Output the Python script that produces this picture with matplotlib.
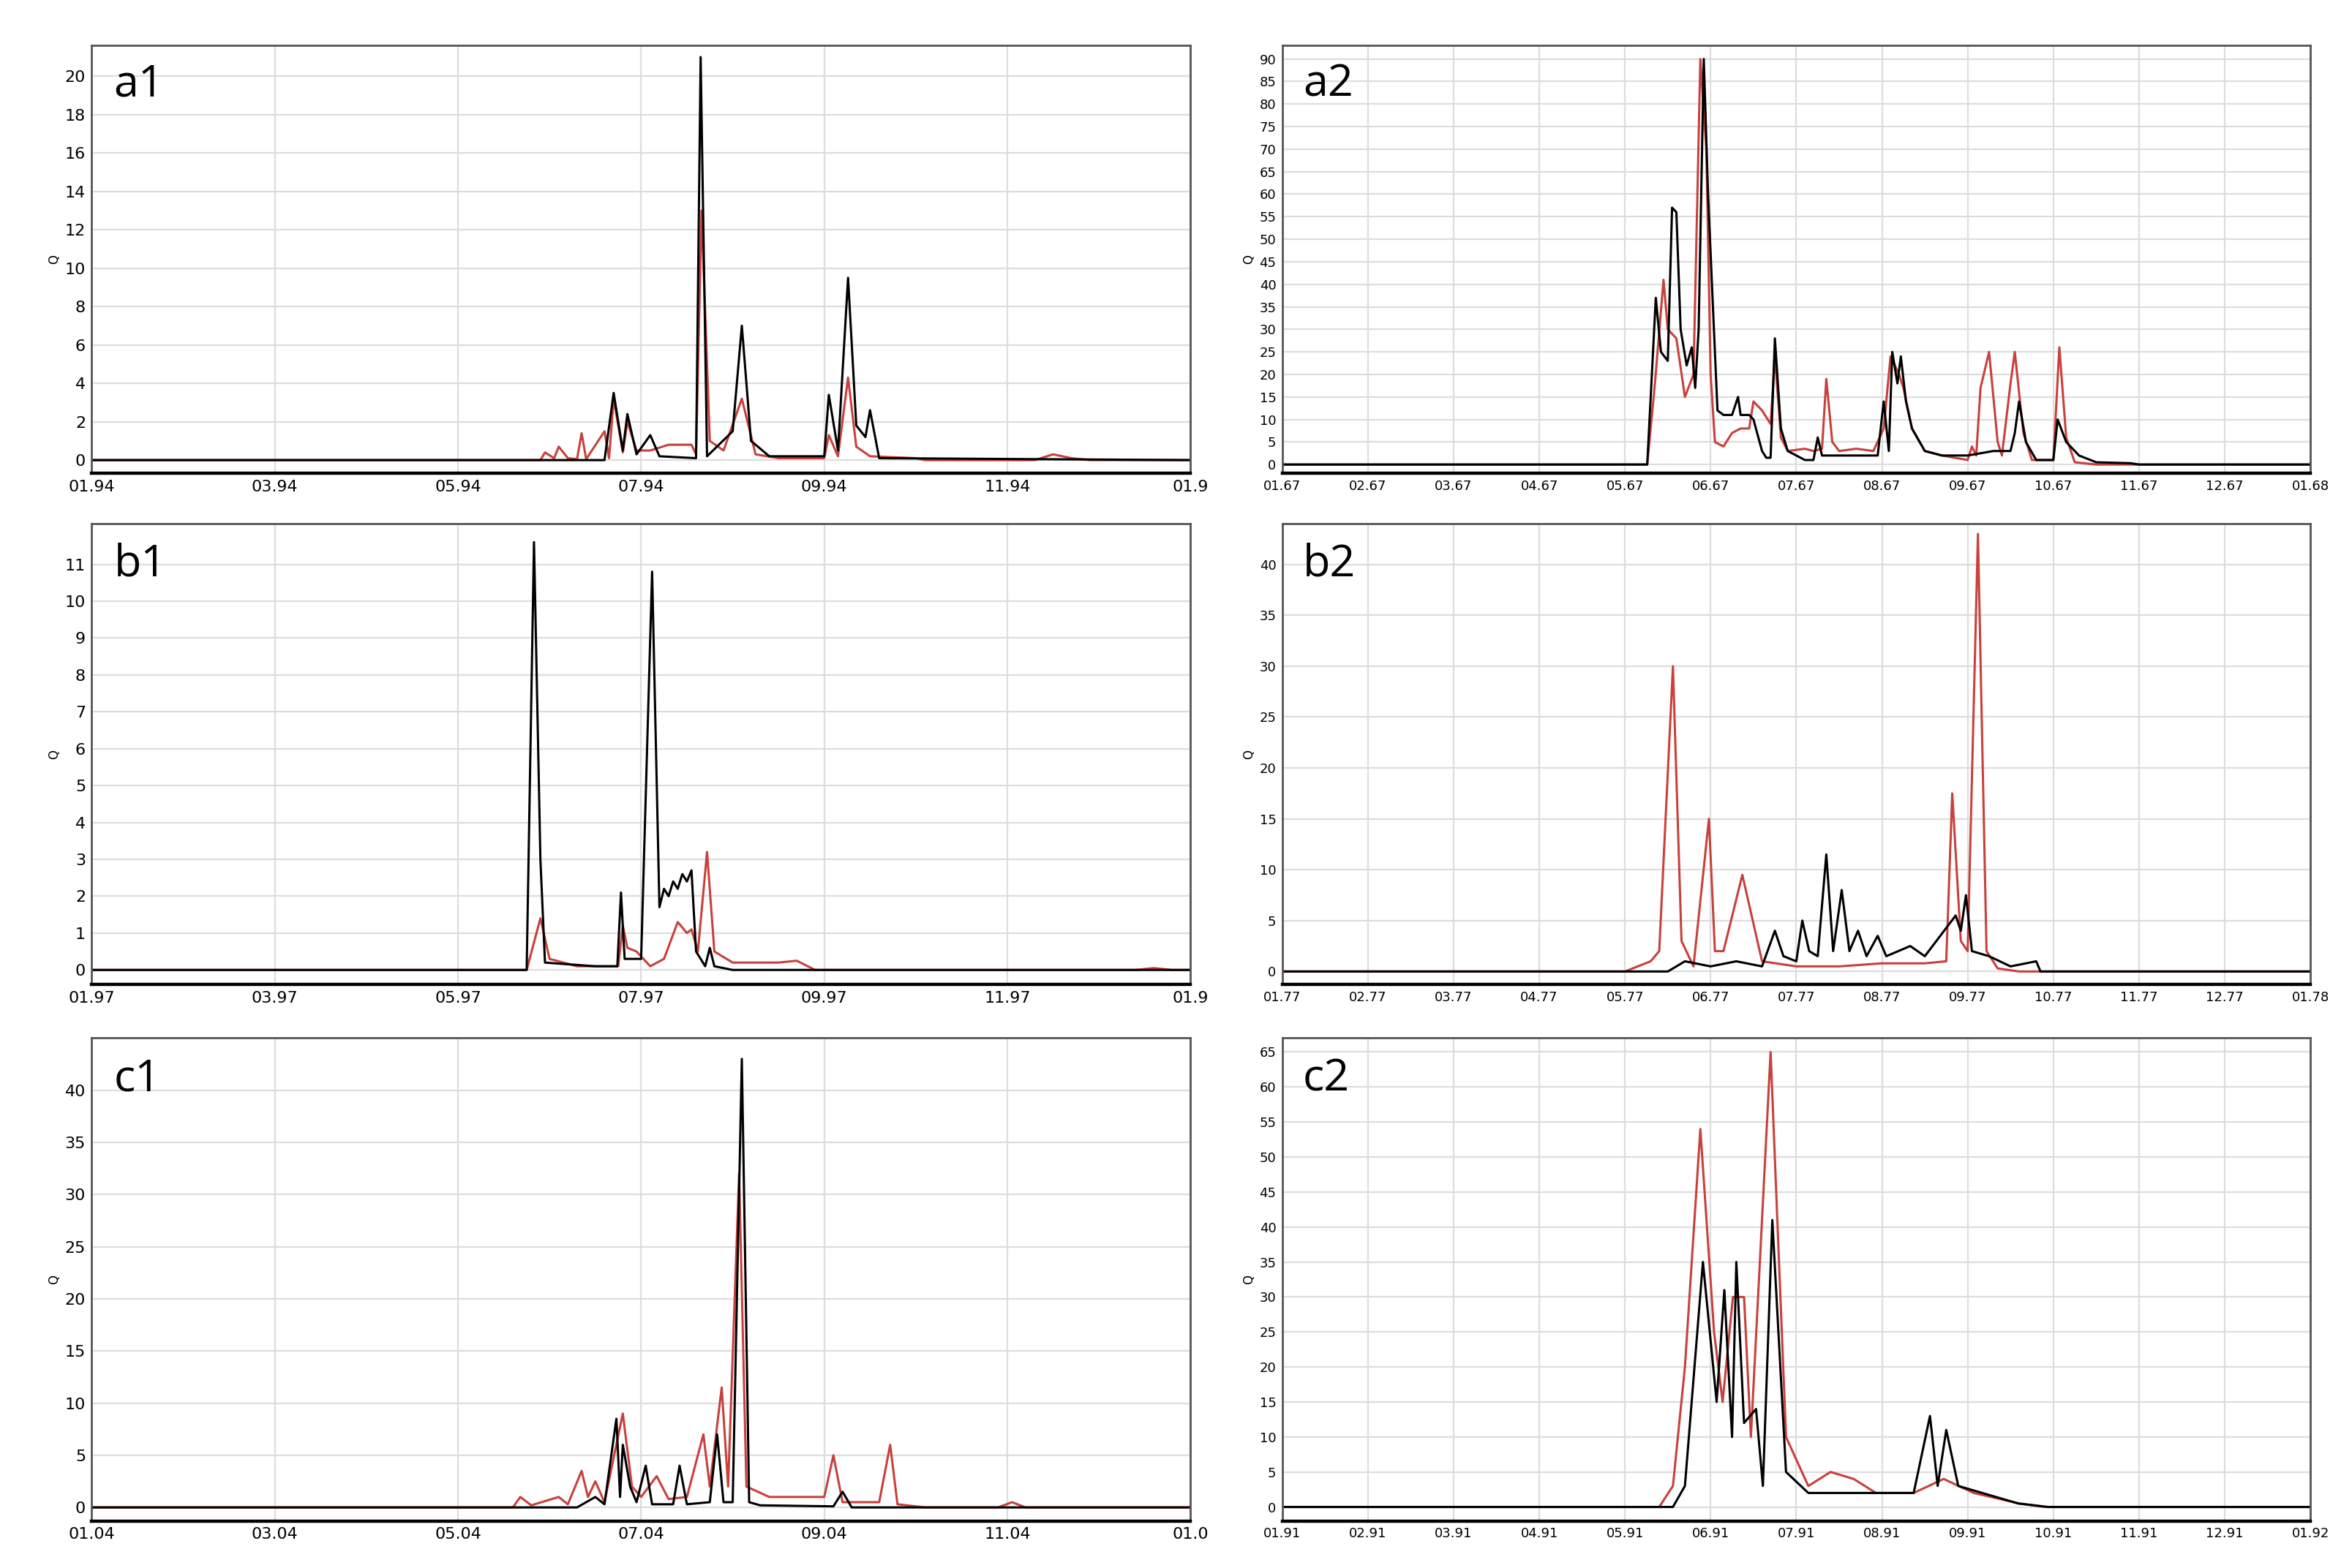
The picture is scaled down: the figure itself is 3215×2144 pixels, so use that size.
import matplotlib.pyplot as plt

# panel data: x positions (tick units), black and red traces
a1_bx = [1, 6.6, 6.7, 6.8, 6.85, 6.95, 7.1, 7.2, 7.6, 7.65, 7.72, 8.0, 8.1, 8.2, 8.4, 9.0, 9.05, 9.15, 9.26, 9.35, 9.45, 9.5, 9.6, 13]
a1_by = [0, 0, 3.5, 0.5, 2.4, 0.3, 1.3, 0.2, 0.1, 21, 0.2, 1.5, 7, 1, 0.2, 0.2, 3.4, 0.5, 9.5, 1.8, 1.2, 2.6, 0.1, 0]
a1_rx = [1, 5.9, 5.95, 6.05, 6.1, 6.2, 6.3, 6.35, 6.4, 6.6, 6.65, 6.7, 6.8, 6.85, 6.95, 7.1, 7.3, 7.55, 7.6, 7.66, 7.75, 7.9, 8.1, 8.25, 8.5, 9.0, 9.05, 9.15, 9.26, 9.35, 9.5, 10, 10.1, 11.3, 11.5, 11.7, 11.9, 13]
a1_ry = [0, 0, 0.4, 0.1, 0.7, 0.1, 0.05, 1.4, 0.05, 1.5, 0.1, 3.2, 0.4, 2.0, 0.5, 0.5, 0.8, 0.8, 0.3, 13, 1.0, 0.5, 3.2, 0.3, 0.1, 0.1, 1.3, 0.2, 4.3, 0.7, 0.2, 0.1, 0, 0, 0.3, 0.1, 0, 0]

a2_bx = [1, 5.26, 5.36, 5.42, 5.5, 5.55, 5.6, 5.65, 5.72, 5.78, 5.82, 5.86, 5.92, 5.97, 6.02, 6.08, 6.15, 6.25, 6.32, 6.35, 6.45, 6.5, 6.6, 6.65, 6.7, 6.75, 6.82, 6.9, 7.0, 7.1, 7.2, 7.25, 7.3, 7.5, 7.7, 7.95, 8.02, 8.08, 8.12, 8.18, 8.22, 8.28, 8.35, 8.5, 8.7, 9.0, 9.3, 9.5, 9.55, 9.6, 9.68, 9.8, 10.0, 10.05, 10.15, 10.3, 10.5, 10.9, 11, 13]
a2_by = [0, 0, 37, 25, 23, 57, 56, 30, 22, 26, 17, 30, 90, 60, 38, 12, 11, 11, 15, 11, 11, 10, 3, 1.5, 1.5, 28, 8, 3, 2, 1, 1, 6, 2, 2, 2, 2, 14, 3, 25, 18, 24, 14, 8, 3, 2, 2, 3, 3, 7, 14, 5, 1, 1, 10, 5, 2, 0.5, 0.3, 0, 0]
a2_rx = [1, 5.26, 5.35, 5.45, 5.5, 5.6, 5.7, 5.8, 5.88, 5.95, 6.0, 6.05, 6.15, 6.25, 6.35, 6.45, 6.5, 6.6, 6.7, 6.75, 6.82, 6.9, 7.1, 7.2, 7.3, 7.35, 7.42, 7.5, 7.7, 7.9, 8.02, 8.1, 8.2, 8.25, 8.35, 8.5, 8.7, 9.0, 9.05, 9.1, 9.15, 9.25, 9.35, 9.4, 9.5, 9.55, 9.65, 9.75, 10.0, 10.07, 10.15, 10.25, 10.5, 13]
a2_ry = [0, 0, 18, 41, 30, 28, 15, 20, 90, 70, 20, 5, 4, 7, 8, 8, 14, 12, 9, 24, 6, 3, 3.5, 3, 3.5, 19, 5, 3, 3.5, 3, 8, 24, 20, 17, 8, 3, 2, 1, 4, 2, 17, 25, 5, 2, 18, 25, 7, 1, 1, 26, 6, 0.5, 0, 0]

b1_bx = [1, 5.75, 5.83, 5.9, 5.95, 6.5, 6.74, 6.78, 6.82, 7.0, 7.12, 7.2, 7.25, 7.3, 7.35, 7.4, 7.45, 7.5, 7.55, 7.6, 7.7, 7.75, 7.8, 8, 13]
b1_by = [0, 0, 11.6, 3, 0.2, 0.1, 0.1, 2.1, 0.3, 0.3, 10.8, 1.7, 2.2, 2.0, 2.4, 2.2, 2.6, 2.4, 2.7, 0.5, 0.1, 0.6, 0.1, 0, 0]
b1_rx = [1, 5.75, 5.9, 6.0, 6.3, 6.75, 6.8, 6.85, 6.95, 7.1, 7.25, 7.4, 7.5, 7.55, 7.62, 7.72, 7.8, 8.0, 8.5, 8.7, 8.9, 12.4, 12.6, 12.8, 13]
b1_ry = [0, 0, 1.4, 0.3, 0.1, 0.1, 1.2, 0.6, 0.5, 0.1, 0.3, 1.3, 1.0, 1.1, 0.5, 3.2, 0.5, 0.2, 0.2, 0.25, 0, 0, 0.05, 0, 0]

b2_bx = [1, 5.5, 5.7, 6.0, 6.3, 6.6, 6.75, 6.85, 7.0, 7.07, 7.15, 7.25, 7.35, 7.43, 7.53, 7.62, 7.72, 7.82, 7.95, 8.05, 8.33, 8.5, 8.86, 8.92, 8.98, 9.05, 9.25, 9.5, 9.8, 9.85, 13]
b2_by = [0, 0, 1, 0.5, 1, 0.5, 4, 1.5, 1, 5, 2, 1.5, 11.5, 2, 8, 2, 4, 1.5, 3.5, 1.5, 2.5, 1.5, 5.5, 4, 7.5, 2, 1.5, 0.5, 1, 0, 0]
b2_rx = [1, 5.0, 5.3, 5.4, 5.56, 5.66, 5.8, 5.98, 6.05, 6.15, 6.37, 6.6, 7.0, 7.5, 8.0, 8.5, 8.75, 8.82, 8.92, 9.0, 9.12, 9.22, 9.35, 9.6, 13]
b2_ry = [0, 0, 1, 2, 30, 3, 0.5, 15, 2, 2, 9.5, 1, 0.5, 0.5, 0.8, 0.8, 1, 17.5, 3, 2, 43, 2, 0.3, 0, 0]

c1_bx = [1, 6.3, 6.5, 6.6, 6.73, 6.77, 6.8, 6.88, 6.95, 7.05, 7.12, 7.35, 7.42, 7.5, 7.75, 7.83, 7.9, 8.0, 8.1, 8.18, 8.3, 9.1, 9.2, 9.3, 13]
c1_by = [0, 0, 1, 0.3, 8.5, 1, 6, 2, 0.5, 4, 0.3, 0.3, 4, 0.3, 0.5, 7, 0.5, 0.5, 43, 0.5, 0.2, 0.1, 1.5, 0, 0]
c1_rx = [1, 5.6, 5.68, 5.8, 6.1, 6.2, 6.35, 6.42, 6.5, 6.6, 6.8, 6.9, 7.0, 7.17, 7.3, 7.5, 7.68, 7.75, 7.88, 7.95, 8.07, 8.15, 8.4, 9.0, 9.1, 9.2, 9.6, 9.72, 9.8, 10.1, 10.9, 11.05, 11.2, 13]
c1_ry = [0, 0, 1, 0.2, 1, 0.3, 3.5, 1, 2.5, 0.5, 9, 2, 1, 3, 0.8, 1, 7, 2, 11.5, 2, 32, 2, 1, 1, 5, 0.5, 0.5, 6, 0.3, 0, 0, 0.5, 0, 0]

c2_bx = [1, 5.56, 5.7, 5.91, 6.07, 6.16, 6.25, 6.3, 6.39, 6.53, 6.61, 6.72, 6.88, 7.14, 7.84, 8.37, 8.56, 8.65, 8.75, 8.89, 9.59, 9.94, 13]
c2_by = [0, 0, 3, 35, 15, 31, 10, 35, 12, 14, 3, 41, 5, 2, 2, 2, 13, 3, 11, 3, 0.5, 0, 0]
c2_rx = [1, 5.4, 5.56, 5.7, 5.88, 6.04, 6.14, 6.26, 6.39, 6.47, 6.7, 6.88, 7.14, 7.4, 7.67, 7.93, 8.37, 8.72, 9.07, 9.6, 9.9, 13]
c2_ry = [0, 0, 3, 20, 54, 25, 15, 30, 30, 10, 65, 10, 3, 5, 4, 2, 2, 4, 2, 0.5, 0, 0]

panels = [
    ("a1", a1_bx, a1_by, a1_rx, a1_ry, [f"{m:02d}.94" for m in (1, 3, 5, 7, 9, 11)] + ["01.9"], 2, range(0, 21, 2), (-0.7, 21.6)),
    ("a2", a2_bx, a2_by, a2_rx, a2_ry, [f"{m:02d}.67" for m in range(1, 13)] + ["01.68"], 1, range(0, 91, 5), (-2, 93)),
    ("b1", b1_bx, b1_by, b1_rx, b1_ry, [f"{m:02d}.97" for m in (1, 3, 5, 7, 9, 11)] + ["01.9"], 2, range(0, 12), (-0.4, 12.1)),
    ("b2", b2_bx, b2_by, b2_rx, b2_ry, [f"{m:02d}.77" for m in range(1, 13)] + ["01.78"], 1, range(0, 41, 5), (-1.3, 44)),
    ("c1", c1_bx, c1_by, c1_rx, c1_ry, [f"{m:02d}.04" for m in (1, 3, 5, 7, 9, 11)] + ["01.0"], 2, range(0, 41, 5), (-1.3, 45)),
    ("c2", c2_bx, c2_by, c2_rx, c2_ry, [f"{m:02d}.91" for m in range(1, 13)] + ["01.92"], 1, range(0, 66, 5), (-2, 67)),
]

fig = plt.figure(figsize=(16.08, 10.72), dpi=200)
lefts = [0.039, 0.545]
widths = [0.467, 0.437]
rows = [(0.698, 0.273), (0.372, 0.294), (0.030, 0.308)]

for i, (name, bx, by, rx, ry, xlabels, step, yticks, ylim) in enumerate(panels):
    col = i % 2
    row = i // 2
    ax = fig.add_axes([lefts[col], rows[row][0], widths[col], rows[row][1]])
    ax.plot(rx, ry, color='#c8413c', lw=1.1)
    ax.plot(bx, by, color='black', lw=1.1)
    ax.set_xlim(1, 13)
    ax.set_ylim(*ylim)
    ax.set_xticks([1 + k * step for k in range(len(xlabels))])
    ax.set_xticklabels(xlabels)
    ax.set_yticks(list(yticks))
    fs = 8 if col == 0 else 6.5
    ax.tick_params(labelsize=fs, length=0, pad=3)
    ax.set_ylabel('Q', fontsize=6, labelpad=2)
    ax.grid(True, color='#dddddd', lw=0.8)
    for s in ax.spines.values():
        s.set_color('#555555')
        s.set_linewidth(1.0)
    ax.spines['bottom'].set_color('black')
    ax.spines['bottom'].set_linewidth(1.6)
    ax.text(0.02, 0.96, name, transform=ax.transAxes, fontsize=22, va='top', ha='left', family='Open Sans')

fig.savefig('out.png', dpi=200, facecolor='white')
